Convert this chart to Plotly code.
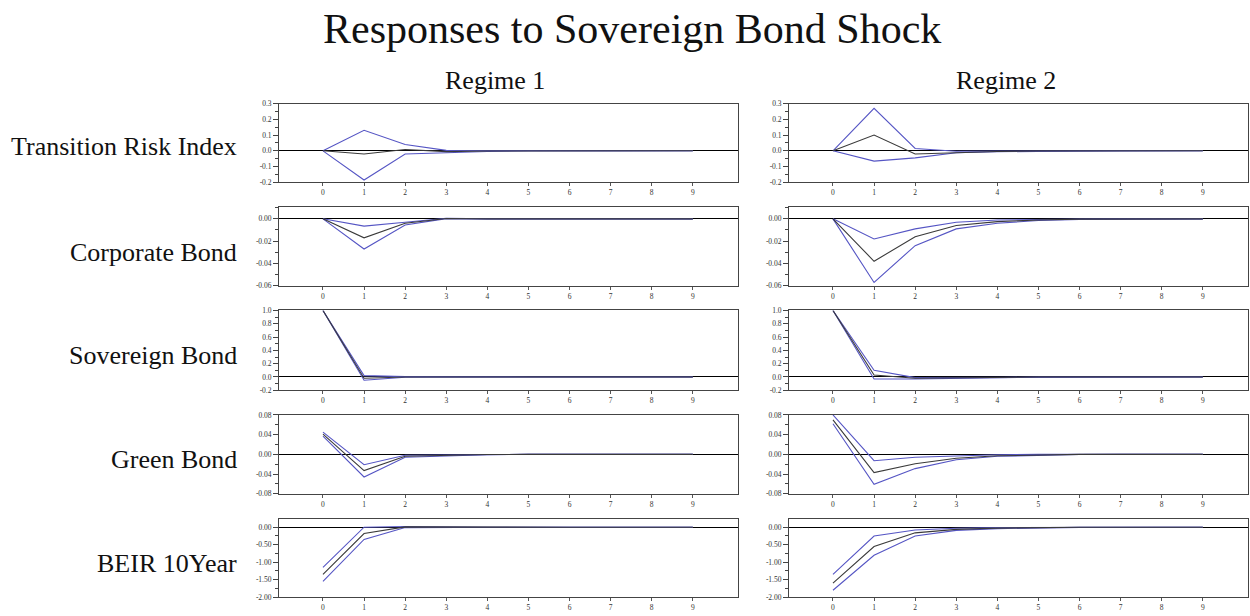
import plotly.graph_objects as go
from plotly.subplots import make_subplots

# ---------------- data ----------------
horizon = [0, 1, 2, 3, 4, 5, 6, 7, 8, 9]
variables = ["Transition Risk Index", "Corporate Bond", "Sovereign Bond", "Green Bond", "BEIR 10Year"]
regimes = ["Regime 1", "Regime 2"]

# Transition Risk Index
tri_r1_mean = [0, -0.02, 0.008, -0.005, -0.001, 0, 0, 0, 0, 0]
tri_r1_up = [0, 0.13, 0.04, 0.003, 0.002, 0, 0, 0, 0, 0]
tri_r1_lo = [0, -0.185, -0.02, -0.012, -0.004, -0.001, 0, 0, 0, 0]
tri_r2_mean = [0, 0.10, -0.02, -0.01, -0.004, -0.001, 0, 0, 0, 0]
tri_r2_up = [0, 0.27, 0.015, -0.003, -0.002, -0.001, 0, 0, 0, 0]
tri_r2_lo = [0, -0.065, -0.045, -0.012, -0.006, -0.002, -0.001, 0, 0, 0]

# Corporate Bond
cb_r1_mean = [0, -0.017, -0.004, 0.0003, 0, 0, 0, 0, 0, 0]
cb_r1_up = [0, -0.0065, -0.003, 0.0005, 0, 0, 0, 0, 0, 0]
cb_r1_lo = [0, -0.027, -0.0055, 0.0002, 0, 0, 0, 0, 0, 0]
cb_r2_mean = [0, -0.038, -0.016, -0.006, -0.0025, -0.001, -0.0003, 0, 0, 0]
cb_r2_up = [0, -0.018, -0.009, -0.003, -0.001, -0.0004, -0.0001, 0, 0, 0]
cb_r2_lo = [0, -0.057, -0.024, -0.009, -0.004, -0.0015, -0.0005, -0.0002, 0, 0]

# Sovereign Bond
sb_r1_mean = [1.0, -0.02, 0.0, 0, 0, 0, 0, 0, 0, 0]
sb_r1_up = [1.0, 0.02, 0.005, 0, 0, 0, 0, 0, 0, 0]
sb_r1_lo = [1.0, -0.05, -0.005, 0, 0, 0, 0, 0, 0, 0]
sb_r2_mean = [1.0, 0.03, -0.02, -0.012, -0.005, -0.001, 0, 0, 0, 0]
sb_r2_up = [1.0, 0.10, -0.01, -0.008, -0.003, 0, 0, 0, 0, 0]
sb_r2_lo = [1.0, -0.03, -0.03, -0.018, -0.008, -0.002, 0, 0, 0, 0]

# Green Bond
gb_r1_mean = [0.041, -0.033, -0.004, -0.002, -0.0005, 0, 0, 0, 0, 0]
gb_r1_up = [0.045, -0.021, -0.002, -0.001, 0, 0, 0, 0, 0, 0]
gb_r1_lo = [0.037, -0.046, -0.006, -0.003, -0.001, 0, 0, 0, 0, 0]
gb_r2_mean = [0.07, -0.037, -0.019, -0.008, -0.003, -0.001, 0, 0, 0, 0]
gb_r2_up = [0.08, -0.013, -0.006, -0.003, -0.001, 0, 0, 0, 0, 0]
gb_r2_lo = [0.062, -0.061, -0.029, -0.011, -0.004, -0.0015, -0.0005, 0, 0, 0]

# BEIR 10Year
be_r1_mean = [-1.35, -0.18, 0.01, 0.003, 0, 0, 0, 0, 0, 0]
be_r1_up = [-1.15, 0.0, 0.02, 0.005, 0, 0, 0, 0, 0, 0]
be_r1_lo = [-1.55, -0.35, -0.01, 0.0, 0, 0, 0, 0, 0, 0]
be_r2_mean = [-1.6, -0.55, -0.16, -0.06, -0.025, -0.008, -0.002, 0, 0, 0]
be_r2_up = [-1.35, -0.25, -0.08, -0.03, -0.01, -0.003, 0, 0, 0, 0]
be_r2_lo = [-1.8, -0.8, -0.25, -0.09, -0.04, -0.015, -0.005, -0.002, 0, 0]

# y-axis tick values per variable row
yticks_tri = [-0.2, -0.1, 0.0, 0.1, 0.2, 0.3]
yticks_cb = [-0.06, -0.04, -0.02, 0.00]
yticks_sb = [-0.2, 0.0, 0.2, 0.4, 0.6, 0.8, 1.0]
yticks_gb = [-0.08, -0.04, 0.00, 0.04, 0.08]
yticks_be = [-2.0, -1.5, -1.0, -0.5, 0.0]

panels = [
    [(tri_r1_mean, tri_r1_up, tri_r1_lo), (tri_r2_mean, tri_r2_up, tri_r2_lo)],
    [(cb_r1_mean, cb_r1_up, cb_r1_lo), (cb_r2_mean, cb_r2_up, cb_r2_lo)],
    [(sb_r1_mean, sb_r1_up, sb_r1_lo), (sb_r2_mean, sb_r2_up, sb_r2_lo)],
    [(gb_r1_mean, gb_r1_up, gb_r1_lo), (gb_r2_mean, gb_r2_up, gb_r2_lo)],
    [(be_r1_mean, be_r1_up, be_r1_lo), (be_r2_mean, be_r2_up, be_r2_lo)],
]
row_ticks = [yticks_tri, yticks_cb, yticks_sb, yticks_gb, yticks_be]

# ---------------- styling / layout ----------------
W, H = 1250, 616
row_px = [(101, 181), (206, 286), (311, 392), (417, 497), (523, 602)]
col_px = [(279, 738), (789, 1248)]
y_ranges = [[-0.2, 0.3], [-0.06, 0.0106], [-0.2, 1.0], [-0.08, 0.08], [-2.0, 0.225]]
y_fmt = ["{:.1f}", "{:.2f}", "{:.1f}", "{:.2f}", "{:.2f}"]
y_minor = [0.05, 0.01, 0.1, 0.02, 0.25]
label_px = [145, 252, 357, 462, 568]

BLUE = "#5555c4"
MEAN = "#3a3a3a"
SERIF = "Liberation Serif, Times New Roman, serif"

fig = make_subplots(rows=5, cols=2)

for r in range(5):
    for c in range(2):
        mean, up, lo = panels[r][c]
        for ys, col in ((up, BLUE), (lo, BLUE), (mean, MEAN)):
            fig.add_trace(
                go.Scatter(x=horizon, y=ys, mode="lines",
                           line=dict(color=col, width=1.1),
                           showlegend=False, hoverinfo="skip"),
                row=r + 1, col=c + 1)
        x0, x1 = col_px[c]
        yt, yb = row_px[r]
        fig.update_xaxes(
            domain=[x0 / W, x1 / W], range=[-1.07, 10.1],
            tickmode="array", tickvals=horizon, ticktext=[str(h) for h in horizon],
            ticks="outside", ticklen=3, tickcolor="#555",
            tickfont=dict(family=SERIF, size=7.5, color="#333"),
            showgrid=False, zeroline=False,
            showline=True, mirror=True, linecolor="#444", linewidth=1,
            row=r + 1, col=c + 1)
        fig.update_yaxes(
            domain=[1 - yb / H, 1 - yt / H], range=y_ranges[r],
            tickmode="array", tickvals=row_ticks[r],
            ticktext=[y_fmt[r].format(v) for v in row_ticks[r]],
            ticks="outside", ticklen=5, tickcolor="#444",
            minor=dict(ticks="outside", ticklen=3, dtick=y_minor[r], tick0=0,
                       tickcolor="#444", showgrid=False),
            tickfont=dict(family=SERIF, size=7.5, color="#333"),
            showgrid=False,
            zeroline=True, zerolinecolor="#000", zerolinewidth=1,
            showline=True, mirror=True, linecolor="#444", linewidth=1,
            row=r + 1, col=c + 1)

annotations = [
    dict(text="Responses to Sovereign Bond Shock", x=632 / W, y=1 - 25 / H,
         xref="paper", yref="paper", xanchor="center", yanchor="middle",
         showarrow=False, font=dict(family=SERIF, size=42, color="#111")),
    dict(text=regimes[0], x=495 / W, y=1 - 78 / H, xref="paper", yref="paper",
         xanchor="center", yanchor="middle", showarrow=False,
         font=dict(family=SERIF, size=26, color="#111")),
    dict(text=regimes[1], x=1006 / W, y=1 - 78 / H, xref="paper", yref="paper",
         xanchor="center", yanchor="middle", showarrow=False,
         font=dict(family=SERIF, size=26, color="#111")),
]
for r in range(5):
    annotations.append(dict(
        text=variables[r], x=239 / W, y=1 - label_px[r] / H,
        xref="paper", yref="paper", xanchor="right", yanchor="middle",
        showarrow=False, font=dict(family=SERIF, size=26, color="#111")))

fig.update_layout(
    width=W, height=H,
    margin=dict(l=0, r=0, t=0, b=0),
    paper_bgcolor="white", plot_bgcolor="white",
    annotations=annotations,
    showlegend=False,
)

fig.write_html("out.html", include_plotlyjs=True, config={"displayModeBar": False},
               post_script="document.body.style.margin='0px';document.body.style.overflow='hidden';")
